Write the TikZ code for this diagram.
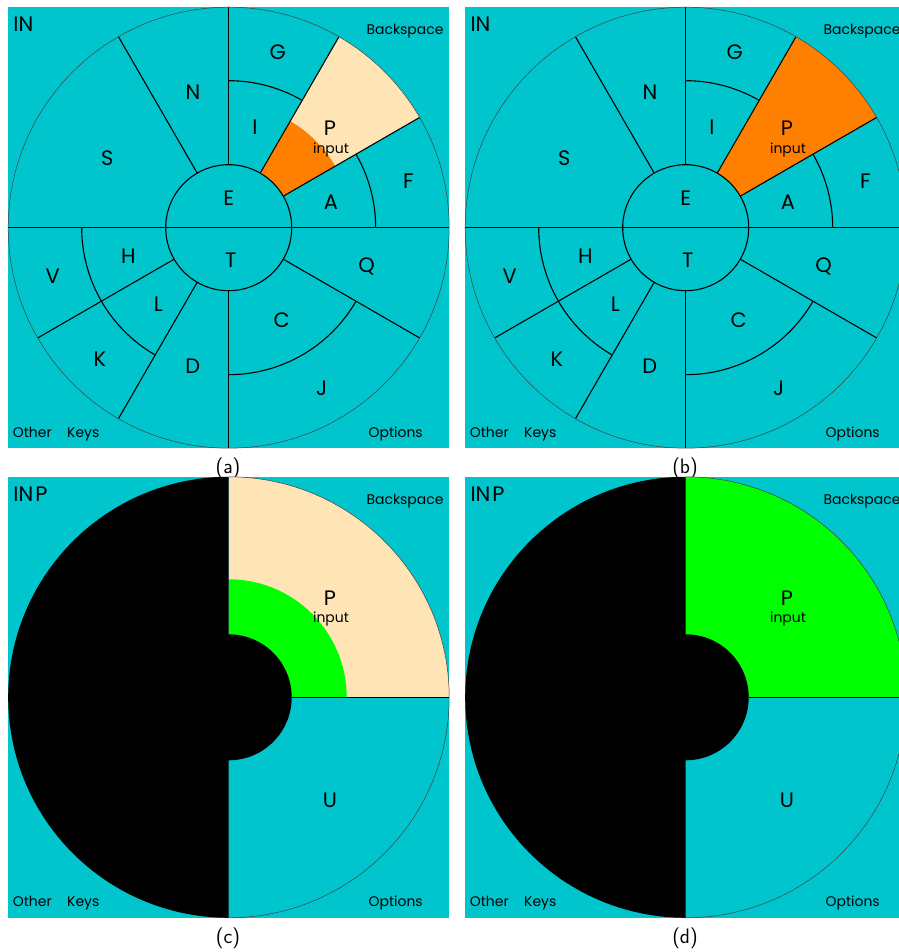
\documentclass[tikz,border=0pt]{standalone}
\usepackage{fontspec}
\setmainfont{Poppins}
\definecolor{kteal}{RGB}{0,197,205}
\definecolor{kcream}{RGB}{255,228,181}
\definecolor{korange}{RGB}{255,128,0}
\definecolor{kgreen}{RGB}{0,255,0}
\newcommand{\kbframe}{%
  \fill[kteal] (-220.5,-220.5) rectangle (220.5,220.5);
}
\newcommand{\kbcorners}[3]{%
  \node[big, anchor=west] (#1-in) at (-215.4,203.5) {#2};
  \node[small] (#1-bs) at (176.3,192.7) {Backspace};
  \node[small] (#1-other) at (-196.4,-209.6) {Other};
  \node[small] (#1-keys) at (-145.4,-209.6) {Keys};
  \node[small] (#1-opt) at (167,-209.6) {Options};
  \node[capt] (#1-cap) at (-0.7,-240.6) {#3};
}
\newcommand{\kbwheel}[1]{%
  \draw[seg] (-220.5,0) -- (220.5,0);
  \draw[seg] (90:63) -- (90:220.5);
  \draw[seg] (270:63) -- (270:220.5);
  \foreach \ang in {30,60,120,210,240,330} {\draw[seg] (\ang:63) -- (\ang:220.5);}
  \draw[seg] (0,0) circle[radius=63];
  \draw[seg] (60:147) arc[start angle=60,end angle=90,radius=147];
  \draw[seg] (0:147) arc[start angle=0,end angle=30,radius=147];
  \draw[seg] (180:147) arc[start angle=180,end angle=240,radius=147];
  \draw[seg] (270:147) arc[start angle=270,end angle=330,radius=147];
  \draw[rim] (0,0) circle[radius=220.5];
  \node[big] (#1-G) at (49,175.4) {G};
  \node[big] (#1-N) at (-35.7,135) {N};
  \node[big] (#1-I) at (26.3,100) {I};
  \node[big] (#1-P) at (101.3,99.4) {P};
  \node[small] (#1-inp) at (102.3,74.4) {input};
  \node[big] (#1-S) at (-121.4,69.4) {S};
  \node[big] (#1-F) at (179.6,46) {F};
  \node[big] (#1-E) at (0,29.4) {E};
  \node[big] (#1-A) at (102.3,25.4) {A};
  \node[big] (#1-H) at (-100.4,-29) {H};
  \node[big] (#1-T) at (2,-32.3) {T};
  \node[big] (#1-V) at (-176,-49) {V};
  \node[big] (#1-Q) at (138,-39) {Q};
  \node[big] (#1-L) at (-70.4,-76.3) {L};
  \node[big] (#1-C) at (53,-92.3) {C};
  \node[big] (#1-K) at (-128.7,-131.6) {K};
  \node[big] (#1-D) at (-36,-139) {D};
  \node[big] (#1-J) at (93,-160.6) {J};
}
\begin{document}
\begin{tikzpicture}[x=1bp,y=1bp,line join=round,
  big/.style={font=\fontsize{21}{21}\selectfont, inner sep=0pt},
  small/.style={font=\fontsize{14}{14}\selectfont, inner sep=0pt, anchor=base},
  capt/.style={font=\sffamily\fontsize{21}{21}\selectfont, inner sep=0pt},
  seg/.style={line width=1.1bp, black},
  rim/.style={line width=0.5bp, black!75}]
\useasboundingbox (0,0) rectangle (899,952);
\clip (0,0) rectangle (899,952);
\fill[white] (0,0) rectangle (899,952);
% (a)
\begin{scope}[shift={(228.7,724.3)}]
  \kbframe
  \fill[kcream] (30:63) arc[start angle=30,end angle=60,radius=63] -- (60:220.5) arc[start angle=60,end angle=30,radius=220.5] -- cycle;
  \fill[korange] (30:63) arc[start angle=30,end angle=60,radius=63] -- (60:123) arc[start angle=60,end angle=30,radius=123] -- cycle;
  \kbwheel{a}
  \kbcorners{a}{IN}{(a)}
\end{scope}
% (b)
\begin{scope}[shift={(685.7,724.3)}]
  \kbframe
  \fill[korange] (30:63) arc[start angle=30,end angle=60,radius=63] -- (60:220.5) arc[start angle=60,end angle=30,radius=220.5] -- cycle;
  \kbwheel{b}
  \kbcorners{b}{IN}{(b)}
\end{scope}
% (c)
\begin{scope}[shift={(228.7,254.7)}]
  \kbframe
  \fill[kcream] (0,0) -- (0:220.5) arc[start angle=0,end angle=90,radius=220.5] -- cycle;
  \fill[kgreen] (0,0) -- (0:118) arc[start angle=0,end angle=90,radius=118] -- cycle;
  \draw[rim] (90:220.5) arc[start angle=90,end angle=-90,radius=220.5];
  \fill[black] (90:220.5) arc[start angle=90,end angle=270,radius=220.5] -- cycle;
  \fill[black] (0,0) circle[radius=63];
  \draw[seg] (63,0) -- (220.5,0);
  \node[big] (c-P) at (101.3,99.4) {P};
  \node[small] (c-inp) at (102.3,74.4) {input};
  \node[big] (c-U) at (101.3,-102.7) {U};
  \kbcorners{c}{IN\kern2pt P}{(c)}
\end{scope}
% (d)
\begin{scope}[shift={(685.7,254.7)}]
  \kbframe
  \fill[kgreen] (0,0) -- (0:220.5) arc[start angle=0,end angle=90,radius=220.5] -- cycle;
  \draw[rim] (90:220.5) arc[start angle=90,end angle=-90,radius=220.5];
  \fill[black] (90:220.5) arc[start angle=90,end angle=270,radius=220.5] -- cycle;
  \fill[black] (0,0) circle[radius=63];
  \draw[seg] (63,0) -- (220.5,0);
  \node[big] (d-P) at (101.3,99.4) {P};
  \node[small] (d-inp) at (102.3,74.4) {input};
  \node[big] (d-U) at (101.3,-102.7) {U};
  \kbcorners{d}{IN\kern2pt P}{(d)}
\end{scope}
\end{tikzpicture}
\end{document}
